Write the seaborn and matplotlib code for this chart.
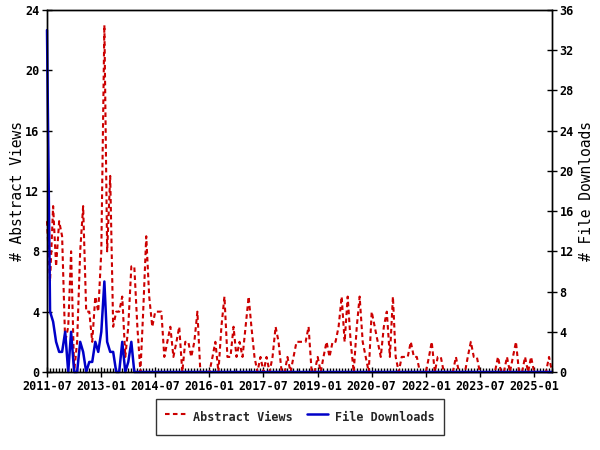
import pandas as pd
import numpy as np
import matplotlib
matplotlib.use('Agg')
import matplotlib.pyplot as plt
import matplotlib.dates as mdates
import seaborn as sns

sns.set_theme(style='white')
plt.rcParams['font.family'] = ['DejaVu Sans Mono', 'DejaVu Sans']

# monthly counts, 2011-07 .. 2025-07
start_month = '2011-07'
abstract_views = [10, 6, 11, 7, 10, 9, 2, 3, 8, 0,
                  2, 8, 11, 4, 4, 2, 5, 4, 8, 23,
                  8, 13, 3, 4, 4, 5, 1, 3, 7, 7,
                  3, 0, 4, 9, 5, 3, 4, 4, 4, 1,
                  2, 3, 1, 2, 3, 0, 2, 2, 1, 2,
                  4, 0, 0, 0, 0, 1, 2, 0, 3, 5,
                  1, 1, 3, 1, 2, 1, 3, 5, 3, 1,
                  0, 1, 0, 1, 0, 1, 3, 2, 0, 0,
                  1, 0, 1, 2, 2, 2, 2, 3, 0, 0,
                  1, 0, 1, 2, 1, 2, 2, 3, 5, 2,
                  5, 2, 0, 3, 5, 2, 1, 0, 4, 3,
                  2, 1, 3, 4, 1, 5, 1, 0, 1, 1,
                  1, 2, 1, 1, 0, 0, 0, 1, 2, 0,
                  1, 1, 0, 0, 0, 0, 1, 0, 0, 0,
                  1, 2, 1, 1, 0, 0, 0, 0, 0, 0,
                  1, 0, 0, 1, 0, 1, 2, 0, 0, 1,
                  0, 1, 0, 0, 0, 0, 0, 1, 0]
file_downloads = [34, 6, 5, 3, 2, 2, 4, 0, 4, 0,
                  0, 3, 2, 0, 1, 1, 3, 2, 4, 9,
                  3, 2, 2, 0, 0, 3, 0, 1, 3, 0] + [0] * 139

months = pd.date_range(start_month, periods=len(abstract_views), freq='MS')
df = pd.DataFrame({'month': months,
                   'Abstract Views': abstract_views,
                   'File Downloads': file_downloads})

red = '#cc0000'
blue = '#0000c8'

fig = plt.figure(figsize=(6, 4.5), dpi=100)
ax1 = fig.add_axes([47/600, 1-372/450, 505/600, 362/450])
ax2 = ax1.twinx()

sns.lineplot(data=df, x='month', y='Abstract Views', ax=ax1, color=red,
             linewidth=1.5, dashes=False, label='Abstract Views', legend=False)
ax1.lines[0].set_dashes([2.2, 1.6])
sns.lineplot(data=df, x='month', y='File Downloads', ax=ax2, color=blue,
             linewidth=1.8, label='File Downloads', legend=False)
for ln in ax1.lines + ax2.lines:
    ln.set_clip_on(False)

ax1.set_xlim(months[0], months[-1])
ax1.set_ylim(0, 24)
ax2.set_ylim(0, 36)
ax1.set_yticks(range(0, 25, 4))
ax2.set_yticks(range(0, 37, 4))
tick_dates = pd.date_range(start_month, months[-1], freq='18MS')
ax1.set_xticks(tick_dates)
ax1.xaxis.set_major_formatter(mdates.DateFormatter('%Y-%m'))
ax1.xaxis.set_minor_locator(mdates.MonthLocator())

for ax in (ax1, ax2):
    for s in ax.spines.values():
        s.set_color('black')
        s.set_linewidth(1)
    ax.tick_params(which='major', direction='inout', length=7, width=1,
                   color='black', labelsize=8.5, labelcolor='black', pad=2)
    ax.tick_params(which='minor', direction='in', length=3, width=1, color='black')
ax1.tick_params(axis='y', left=True, right=False)
ax2.tick_params(axis='y', right=True, left=False)
ax1.tick_params(axis='x', bottom=True, which='both')
for lab in ax1.get_xticklabels() + ax1.get_yticklabels() + ax2.get_yticklabels():
    lab.set_fontweight('bold')

ax1.set_xlabel('')
ax1.set_ylabel('# Abstract Views', fontsize=10.5, color='black')
ax2.set_ylabel('# File Downloads', fontsize=10.5, rotation=90, color='black')
ax1.yaxis.set_label_coords(-0.043, 0.5)
ax2.yaxis.set_label_coords(1.053, 0.5)
ax1.grid(False)
ax2.grid(False)

handles = [ax1.lines[0], ax2.lines[0]]
leg = fig.legend(handles, ['Abstract Views', 'File Downloads'], ncol=2,
                 loc='center', bbox_to_anchor=(0.5, 1-417/450),
                 frameon=True, fancybox=False, edgecolor='black',
                 prop={'family': 'DejaVu Sans Mono', 'size': 8.5, 'weight': 'bold'},
                 handlelength=1.8, handleheight=2.1, handletextpad=0.6,
                 columnspacing=1.2, borderpad=0.75, borderaxespad=0)
leg.get_frame().set_linewidth(1)

fig.savefig('out.png', dpi=100)
